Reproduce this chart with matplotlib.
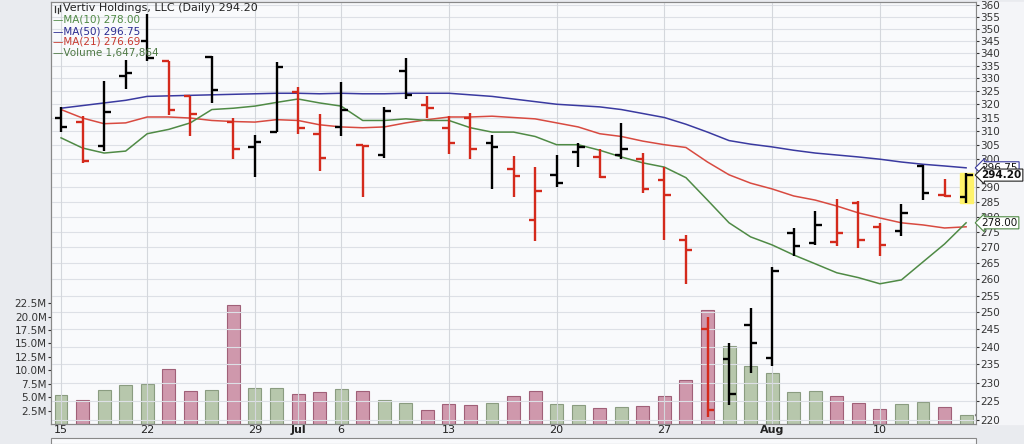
import numpy as np
import matplotlib
matplotlib.use("Agg")
import matplotlib.pyplot as plt
from matplotlib.patches import Rectangle
from matplotlib.lines import Line2D

opens  = [315,313.5,304.5,330.9,345,337,323,338.5,313.5,304.2,309.6,324.7,309,311.5,305,301.3,332.8,319.8,311.2,314.8,305.6,296.4,279,294.3,302.4,300.6,301.3,299.7,292.5,272.3,245,236.5,246.3,236.8,274.6,271.4,271.7,284.6,276.6,275.3,297.4,287.5,286.7]
highs  = [319,315.5,329,337.3,356,337,323,339,315,308.6,336.6,326.6,316.4,328.7,305,319,338,323,315.5,316.7,308.6,301,297,301.3,305.6,303.5,313,302,297,274,248.7,241,251.3,263.9,276.3,282,286,285.3,278,284.3,297.8,292.9,295]
lows   = [309.6,298.5,302.7,325.8,337,316,308,320.5,300,293.6,309.6,309,295.7,308,286.7,300.4,322,315,301.7,300,289.4,286.7,272,290,297,293.3,299.7,288,272.3,258.6,220.7,224,232.6,234.6,267.3,270.8,270.5,269.8,267.3,273.7,285.6,286.7,284.6]
closes = [311.5,299,317,332,338,318,316.5,325.5,303.5,306,334.5,311.2,300.4,318,304.5,317.4,323.6,318.6,305.6,303.5,304.2,294,288.8,291.4,304,293.6,303.5,289.4,287.4,269.3,222.6,226.9,241,262.6,270.5,277.3,274.6,272.3,270.8,281.3,288,287,294.2]
volume_m = [5.4,4.5,6.3,7.3,7.4,10.2,6.1,6.3,22.2,6.7,6.7,5.6,5.9,6.5,6.1,4.5,3.9,2.6,3.7,3.5,3.9,5.2,6.1,3.7,3.5,3.0,3.2,3.4,5.2,8.2,21.2,14.5,10.8,9.5,5.9,6.1,5.2,3.9,2.8,3.7,4.1,3.2,1.65]
ma10 = [307.5,303.8,302,302.7,309,310.6,313,318,318.5,319.3,320.7,322,320.5,319.3,313.9,313.9,314.5,313.9,313.9,311.2,309.6,309.6,308,305,305,303,300.6,298.5,297,293.3,285.6,278,273.4,270.8,267.6,264.8,262,260.5,258.6,259.8,265.4,271.1,278]
ma21 = [318,314.8,312.7,313,315.2,315.2,314.8,313.9,313.5,313.3,314.2,313.9,312.3,311.5,311.2,311.5,313,314.2,315.2,315.2,315.5,315,314.5,313,311.5,309,308,306.3,305,304,298.8,294.3,291.4,289.4,287,285.6,283.6,281.3,279.6,278,277.3,276.3,276.69]
ma50 = [318.5,319.5,320.5,321.5,323,323.2,323.4,323.6,323.8,324,324.2,324.2,324,324.2,324,324,324.2,324.2,324.2,323.6,323,322,321,320,319.5,319,318,316.5,315,312.5,309.6,306.5,305.2,304.2,303,302,301.3,300.6,299.8,298.8,298,297.4,296.75]
tick_pos = [0,4,9,11,13,18,23,28,33,38]
tick_labels = ["15","22","29","Jul","6","13","20","27","Aug","10"]

n = len(closes)
x = np.arange(n)
up = [True] + [closes[i] >= closes[i-1] for i in range(1, n)]

W, H = 1024, 444
fig = plt.figure(figsize=(W/100, H/100), dpi=100)
fig.patch.set_facecolor("#e9ebef")
L, R, T, B = 51, 976, 2, 424
ax = fig.add_axes([L/W, 1-B/H, (R-L)/W, (B-T)/H])
ax.set_facecolor("#f9fafc")
axp = ax.twinx()
axp.set_zorder(ax.get_zorder()+1)
axp.patch.set_visible(False)

fig.patches.append(Rectangle((R/W, 1-B/H), 1-R/W, (B-T)/H, transform=fig.transFigure, color="#f4f5f8", zorder=0))
fig.patches.append(Rectangle((L/W, 0), (R-L)/W, 6/H, transform=fig.transFigure, facecolor="#f9fafc", edgecolor="#888", lw=0.8, zorder=0))

xl = (-(61-L)/21.55, (R-61)/21.55)
vcol = ["#b7c7ac" if u else "#cf98ac" for u in up]
ecol = ["#8a9c80" if u else "#a06078" for u in up]
ax.bar(x, volume_m, width=0.6, color=vcol, edgecolor=ecol, lw=0.8, zorder=2)
ax.set_ylim(0, (B-T)/5.37)
ax.set_xlim(*xl)
vt = [2.5,5,7.5,10,12.5,15,17.5,20,22.5]
ax.set_yticks(vt)
ax.set_yticklabels([f"{v:.1f}M" for v in vt])
ax.tick_params(axis="y", labelsize=7.5, length=2, pad=1, colors="#333")

k = 0.0011867
axp.set_yscale("log")
axp.set_ylim(np.exp(np.log(220)-4*k), np.exp(np.log(360)+3*k))
pt = np.arange(220, 361, 5)
axp.yaxis.set_major_locator(matplotlib.ticker.FixedLocator(pt))
axp.yaxis.set_minor_locator(matplotlib.ticker.NullLocator())
axp.set_yticks(pt)
axp.set_yticklabels([str(p) for p in pt])
axp.tick_params(axis="y", labelsize=7.5, length=2, pad=1, colors="#333")
for p in pt:
    axp.axhline(p, color="#dde0e6", lw=0.8, zorder=0)
for t in tick_pos:
    axp.axvline(t, color="#d4d7dc", lw=0.8, zorder=0)

axp.plot(x, ma50, color="#3a3aa0", lw=1.1, zorder=3)
axp.plot(x, ma21, color="#d84a40", lw=1.1, zorder=3)
axp.plot(x, ma10, color="#4f8a45", lw=1.1, zorder=3)

axp.add_patch(Rectangle((n-1-0.3, 284.6), 0.6, 295-284.6, color="#fff36a", zorder=3))
tw = 0.3
for i in range(n):
    c = "black" if up[i] else "#d42a1c"
    axp.vlines(x[i], lows[i], highs[i], color=c, lw=1.7, zorder=4)
    axp.hlines(opens[i], x[i]-tw, x[i], color=c, lw=1.7, zorder=4)
    axp.hlines(closes[i], x[i], x[i]+tw, color=c, lw=1.7, zorder=4)
axp.set_xlim(*xl)

ax.set_xticks(tick_pos)
ax.set_xticklabels(tick_labels)
ax.set_xticks(x, minor=True)
ax.tick_params(axis="x", labelsize=8, length=3, pad=1, colors="#222", direction="in")
ax.tick_params(axis="x", which="minor", length=2, direction="in")
for lbl in ax.get_xticklabels():
    if lbl.get_text() in ("Jul", "Aug"):
        lbl.set_fontweight("bold")
for a in (ax, axp):
    for s in a.spines.values():
        s.set_color("#888")
        s.set_linewidth(0.8)

# small bar-chart icon before the title
for dx, y0, y1 in [(55, 6, 12), (57.5, 8, 13), (60, 5, 11)]:
    fig.add_artist(Line2D([dx/W, dx/W], [1-y0/H, 1-y1/H], transform=fig.transFigure, color="#333", lw=0.9))
fig.text(63/W, 1-3/H, "Vertiv Holdings, LLC (Daily) 294.20", fontsize=8, color="#222", va="top")
items = [("MA(10) 278.00", "#4f8a45"), ("MA(50) 296.75", "#2a2a90"),
         ("MA(21) 276.69", "#c83a30"), ("Volume 1,647,864", "#4f7a45")]
for j, (t, c) in enumerate(items):
    fig.text(53/W, 1-(15+11*j)/H, "\u2014" + t, fontsize=7.5, color=c, va="top")

def flag(v, txt, ec, ax_, bold=False):
    ax_.annotate(txt, xy=(1.0, v), xycoords=("axes fraction", "data"), xytext=(4, 0),
                 textcoords="offset points", va="center", ha="left", fontsize=7.5,
                 fontweight="bold" if bold else "normal", color="#111",
                 bbox=dict(boxstyle="larrow,pad=0.1", fc="white", ec=ec, lw=0.8), zorder=10)
flag(296.75, "296.75", "#3a3aa0", axp)
flag(294.20, "294.20", "#222", axp, bold=True)
flag(278.00, "278.00", "#4f8a45", axp)
flag(volume_m[-1], "1647864", "#555", ax)

fig.savefig("out.png", dpi=100, facecolor=fig.get_facecolor())
